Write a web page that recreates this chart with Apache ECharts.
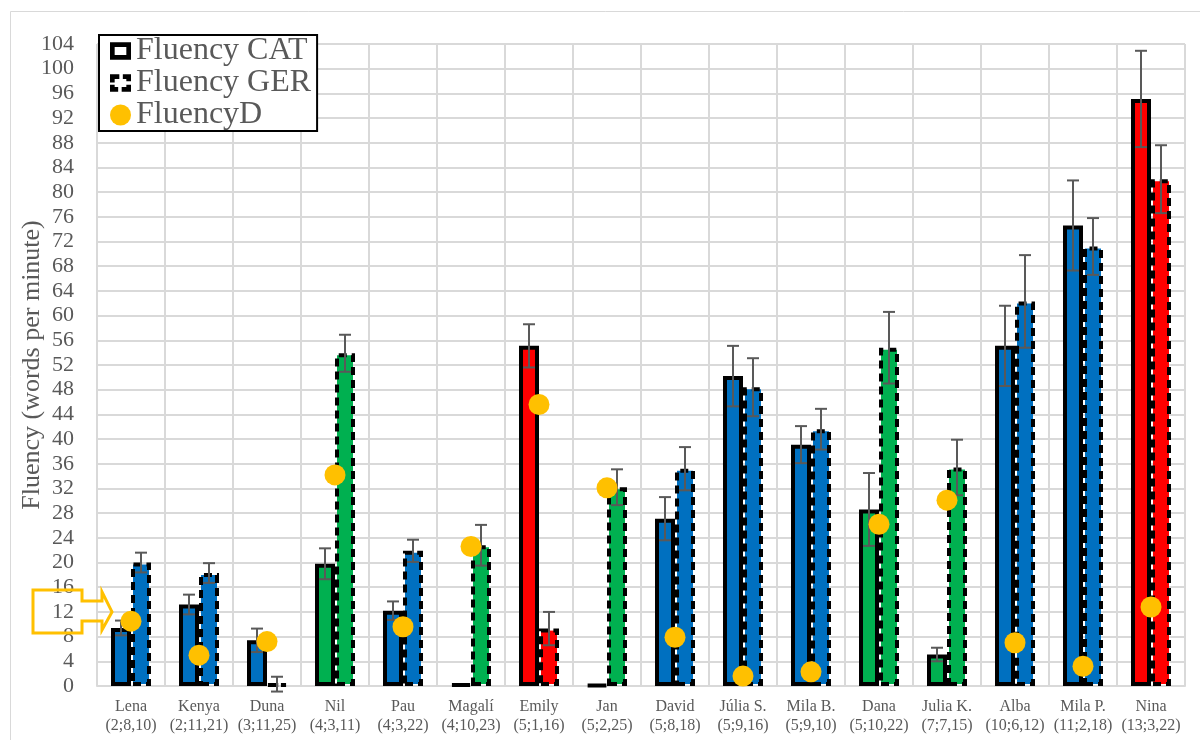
<!DOCTYPE html>
<html>
<head>
<meta charset="utf-8">
<script src="https://cdn.jsdelivr.net/npm/echarts@6.0.0/dist/echarts.min.js"></script>
<style>
html,body{margin:0;padding:0;background:#fff;}
#chart{width:1200px;height:740px;}
</style>
</head>
<body>
<div id="chart"></div>
<script>
// ---- data ----
const names = ['Lena','Kenya','Duna','Nil','Pau','Magalí','Emily','Jan','David','Júlia S.','Mila B.','Dana','Julia K.','Alba','Mila P.','Nina'];
const ages = ['(2;8,10)','(2;11,21)','(3;11,25)','(4;3,11)','(4;3,22)','(4;10,23)','(5;1,16)','(5;2,25)','(5;8,18)','(5;9,16)','(5;9,10)','(5;10,22)','(7;7,15)','(10;6,12)','(11;2,18)','(13;3,22)'];
const group = ['B','B','B','G','B','G','R','G','B','B','B','G','G','B','B','R'];
const fluencyCAT = [9.4, 13.2, 7.4, 19.8, 12.2, 0.3, 55.1, 0.2, 27.1, 50.2, 39.1, 28.6, 5.1, 55.1, 74.6, 95.1];
const errCAT     = [1.2, 1.6, 1.9, 2.5, 1.5, 0, 3.5, 0, 3.5, 4.9, 3.0, 5.9, 1.1, 6.5, 7.3, 7.8];
const fluencyGER = [20.0, 18.3, 0.3, 53.9, 21.9, 22.8, 9.3, 32.2, 35.2, 48.4, 41.6, 54.8, 35.4, 62.3, 71.2, 82.1];
const errGER     = [1.6, 1.6, 1.2, 3.0, 1.8, 3.3, 2.7, 2.9, 3.5, 4.7, 3.3, 5.8, 4.5, 7.5, 4.6, 5.5];
const fluencyD   = [10.5, 5.0, 7.2, 34.2, 9.6, 22.6, 45.6, 32.1, 7.9, 1.6, 2.3, 26.2, 30.1, 7.0, 3.2, 12.8];
const yTicks = {min: 0, max: 104, interval: 4};
const yTitle = 'Fluency (words per minute)';
const annotatedValue = 12;

// ---- style ----
const palette = {B: '#0070C0', G: '#00B050', R: '#FF0000'};
const FONT = '"Liberation Serif", "Times New Roman", serif';
const TXT = '#595959';
const GRIDC = '#D9D9D9';
const BAR_W = 20, BAR_GAP = 0;
const OFF = BAR_W * (1 + BAR_GAP) / 2;

function errRender(offset) {
  return function (params, api) {
    const e = api.value(2);
    if (!e) return null;
    const x = api.value(0), v = api.value(1);
    const hi = api.coord([x, v + e]);
    const lo = api.coord([x, v - e]);
    const cx = hi[0] + offset;
    const st = {stroke: TXT, lineWidth: 2};
    return {
      type: 'group',
      children: [
        {type: 'line', shape: {x1: cx, y1: hi[1], x2: cx, y2: lo[1]}, style: st},
        {type: 'line', shape: {x1: cx - 6, y1: hi[1], x2: cx + 6, y2: hi[1]}, style: st},
        {type: 'line', shape: {x1: cx - 6, y1: lo[1], x2: cx + 6, y2: lo[1]}, style: st}
      ]
    };
  };
}

const chart = echarts.init(document.getElementById('chart'), null, {renderer: 'canvas'});
const option = {
  animation: false,
  backgroundColor: '#fff',
  grid: {left: 97, right: 15, top: 44, bottom: 54, containLabel: false, outerBoundsMode: 'none'},
  legend: {
    orient: 'vertical',
    left: 99, top: 35,
    backgroundColor: '#fff',
    borderColor: '#000', borderWidth: 2, borderRadius: 0,
    padding: [0, 6, 0, 11],
    itemWidth: 21, itemHeight: 21, itemGap: 0,
    textStyle: {fontFamily: FONT, fontSize: 32, color: TXT, lineHeight: 32},
    selectedMode: false,
    data: [
      {name: 'Fluency CAT', icon: 'path://M0,0h18v15h-18z M4,4v7h10v-7z', itemStyle: {color: '#000', borderWidth: 0}},
      {name: 'Fluency GER', icon: 'path://M0,0h8v4h-4v3h-4z M11,0h7v6h-4v-2h-3z M0,9h4v2h3v4h-7z M14,9h4v6h-8v-4h4z', itemStyle: {color: '#000', borderWidth: 0}},
      {name: 'FluencyD', icon: 'circle', itemStyle: {color: '#FFC000', borderWidth: 0}}
    ]
  },
  xAxis: {
    type: 'category',
    data: names,
    boundaryGap: true,
    axisLine: {show: true, lineStyle: {color: GRIDC, width: 2}},
    axisTick: {show: false},
    splitLine: {show: true, lineStyle: {color: GRIDC, width: 2}},
    axisLabel: {
      interval: 0, margin: 11,
      fontFamily: FONT, fontSize: 16, lineHeight: 19, color: TXT,
      formatter: function (val, idx) { return val + '\n' + ages[idx]; }
    }
  },
  yAxis: {
    type: 'value',
    min: yTicks.min, max: yTicks.max, interval: yTicks.interval,
    name: yTitle,
    nameLocation: 'middle',
    nameGap: 52,
    nameMoveOverlap: false,
    nameTextStyle: {fontFamily: FONT, fontSize: 26, color: TXT},
    axisLine: {show: false},
    axisTick: {show: false},
    splitLine: {show: true, lineStyle: {color: GRIDC, width: 2}},
    axisLabel: {fontFamily: FONT, fontSize: 22, color: TXT, margin: 23}
  },
  series: [
    {
      name: 'Fluency CAT', type: 'bar', data: fluencyCAT,
      barWidth: BAR_W, barGap: (BAR_GAP * 100) + '%', z: 2,
      itemStyle: {
        color: function (p) { return palette[group[p.dataIndex]]; },
        borderColor: '#000', borderWidth: 4
      }
    },
    {
      name: 'Fluency GER', type: 'bar', data: fluencyGER,
      barWidth: BAR_W, barGap: (BAR_GAP * 100) + '%', z: 2,
      itemStyle: {
        color: function (p) { return palette[group[p.dataIndex]]; },
        borderColor: '#000', borderWidth: 4, borderType: [8, 5]
      }
    },
    {
      name: 'errCAT', type: 'custom', z: 3,
      renderItem: errRender(-OFF),
      encode: {x: 0, y: 1},
      data: fluencyCAT.map(function (v, i) { return [i, v, errCAT[i]]; })
    },
    {
      name: 'errGER', type: 'custom', z: 3,
      renderItem: errRender(OFF),
      encode: {x: 0, y: 1},
      data: fluencyGER.map(function (v, i) { return [i, v, errGER[i]]; })
    },
    {
      name: 'FluencyD', type: 'scatter', data: fluencyD,
      symbol: 'circle', symbolSize: 21, z: 5,
      itemStyle: {color: '#FFC000', opacity: 1}
    }
  ]
};
chart.setOption(option);

// annotation: yellow arrow callout pointing to the value on the axis, plus outer border
const yc = chart.convertToPixel({yAxisIndex: 0}, annotatedValue);
const pts = [
  [33, yc - 22], [82, yc - 22], [82, yc - 11], [102, yc - 11], [102, yc - 20],
  [112, yc], [102, yc + 18], [102, yc + 9], [82, yc + 9], [82, yc + 21], [33, yc + 21]
];
chart.setOption({
  graphic: [
    {type: 'rect', shape: {x: 10.5, y: 11.5, width: 1250, height: 800}, style: {fill: 'none', stroke: GRIDC, lineWidth: 1}, silent: true, z: -1},
    {type: 'polygon', shape: {points: pts}, style: {fill: 'none', stroke: '#FFC000', lineWidth: 3}, silent: true, z: 10}
  ]
});
</script>
</body>
</html>
